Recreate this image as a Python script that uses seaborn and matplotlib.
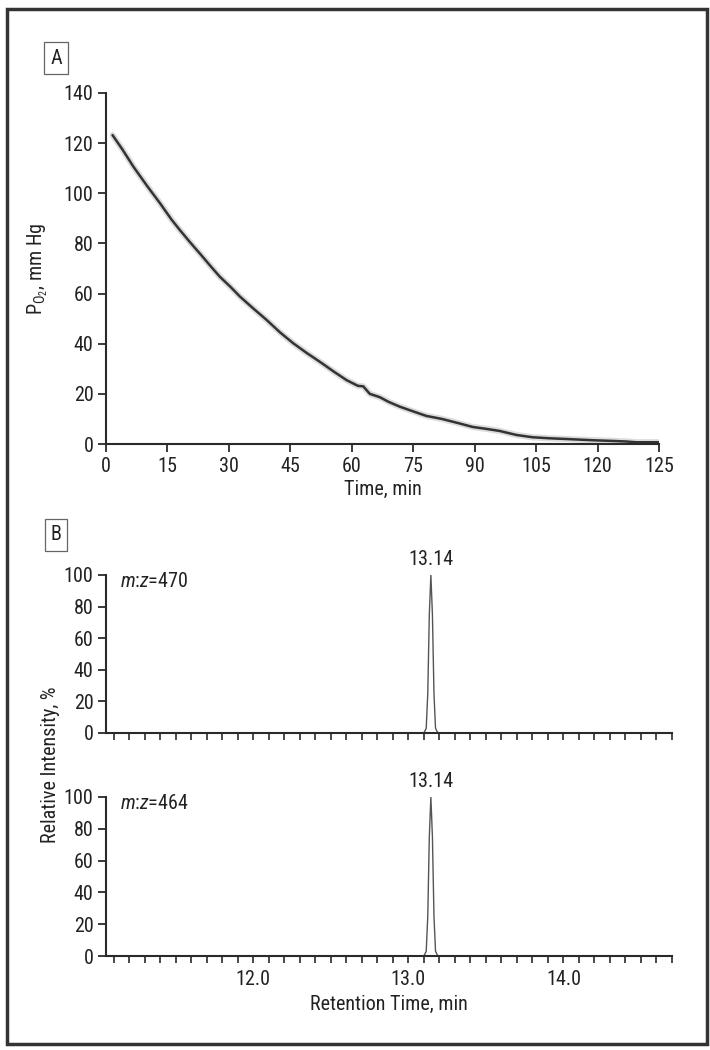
import pandas as pd
import matplotlib.pyplot as plt
import seaborn as sns
from matplotlib.patches import Rectangle

# ==========================
# DATA
# ==========================

# Panel A: oxygen tension vs time (x in axis units; last tick is labelled 125)
time_min = [1.6, 4, 6.7, 10, 13.2, 16, 18, 20.5, 22.9, 25.5, 27.8, 30.5, 32.7, 36,
            39.2, 42.5, 45.7, 49, 52.2, 55.5, 58.7, 61.5, 62.8, 64.4, 66.8, 69, 71.7,
            75, 78.2, 82, 86.3, 89.5, 93, 96.1, 100.2, 104.1, 108, 112.3, 118.8, 124,
            127, 129.4, 135]
po2_mmhg = [123.2, 117.5, 110.6, 103, 96, 89.5, 85.4, 80.5, 76, 71, 66.7, 62.5, 58.8, 54,
            49.5, 44.5, 40.2, 36.3, 32.8, 29, 25.5, 23.2, 23.0, 20.0, 18.7, 16.8, 14.9,
            13, 11.2, 10, 8.2, 6.8, 6, 5.2, 3.6, 2.7, 2.3, 2.0, 1.5, 1.2,
            1.0, 0.7, 0.7]
a_xticks = [0, 15, 30, 45, 60, 75, 90, 105, 120, 135]
a_xticklabels = ["0", "15", "30", "45", "60", "75", "90", "105", "120", "125"]
a_yticks = [0, 20, 40, 60, 80, 100, 120, 140]

# Panel B: chromatograms
rt_min = [11.05, 13.10, 13.115, 13.125, 13.135, 13.145, 13.155, 13.165, 13.175, 13.19, 14.70]
mz470_pct = [0, 0, 3, 25, 75, 100, 75, 25, 3, 0, 0]
mz464_pct = [0, 0, 3, 25, 75, 100, 75, 25, 3, 0, 0]
peak_rt = 13.145
peak_label = "13.14"
b_major = [12.0, 13.0, 14.0]
b_minor = [round(11.1 + 0.1 * i, 1) for i in range(37)]
b_yticks = [0, 20, 40, 60, 80, 100]

# ==========================
# STYLE
# ==========================

sns.set_style("ticks")
FONT = ["Roboto Condensed", "DejaVu Sans"]
plt.rcParams["font.family"] = FONT
plt.rcParams["mathtext.fontset"] = "custom"
plt.rcParams["mathtext.rm"] = "Roboto Condensed"
plt.rcParams["mathtext.it"] = "Roboto Condensed:italic"
plt.rcParams["font.size"] = 14
TXT = "#222222"
AX = "#2a2a2a"
FS = 14.5

W, H = 710, 1050
fig = plt.figure(figsize=(W / 100, H / 100), dpi=100)


def box(left, top, right, bottom):
    return [left / W, 1 - bottom / H, (right - left) / W, (bottom - top) / H]


def style_axis(ax):
    sns.despine(ax=ax)
    for s in ["left", "bottom"]:
        ax.spines[s].set_color(AX)
        ax.spines[s].set_linewidth(1.5)
    ax.tick_params(colors=AX, labelcolor=TXT, width=1.3, length=6, labelsize=FS, pad=3)


# ==========================
# PANEL A
# ==========================

ax_a = fig.add_axes(box(106, 93, 659, 444))
df_a = pd.DataFrame({"t": time_min, "po2": po2_mmhg})
sns.lineplot(data=df_a, x="t", y="po2", ax=ax_a, color="#dcdcdc", lw=4.5,
             estimator=None, sort=False)
sns.lineplot(data=df_a, x="t", y="po2", ax=ax_a, color="#333333", lw=1.8,
             estimator=None, sort=False)
ax_a.set_xlim(0, 135)
ax_a.set_ylim(0, 140)
ax_a.set_xticks(a_xticks)
ax_a.set_xticklabels(a_xticklabels)
ax_a.set_yticks(a_yticks)
style_axis(ax_a)
ax_a.set_xlabel("Time, min", color=TXT, fontsize=FS, labelpad=3)
ax_a.set_ylabel(r"P$\mathregular{_{O_2}}$, mm Hg", color=TXT, fontsize=FS, labelpad=10)

# ==========================
# PANEL B
# ==========================

ax_b1 = fig.add_axes(box(106, 575, 672, 733))
ax_b2 = fig.add_axes(box(106, 797, 672, 956))

for ax, vals, mz in [(ax_b1, mz470_pct, "470"), (ax_b2, mz464_pct, "464")]:
    df_b = pd.DataFrame({"rt": rt_min, "pct": vals})
    sns.lineplot(data=df_b, x="rt", y="pct", ax=ax, color="#555555", lw=1.0,
                 estimator=None, sort=False)
    ax.set_xlim(11.05, 14.70)
    ax.set_ylim(0, 100)
    ax.set_yticks(b_yticks)
    ax.set_xticks(b_minor)
    style_axis(ax)
    ax.tick_params(axis="x", length=5, width=1.2)
    ax.set_xlabel("")
    ax.set_ylabel("")
    ax.text(11.14, 96, r"$\mathit{m}$:$\mathit{z}$=" + mz, ha="left", va="center",
            fontsize=FS, color=TXT)
    ax.text(peak_rt, 104, peak_label, ha="center", va="bottom", fontsize=FS,
            color=TXT, clip_on=False)

ax_b1.set_xticklabels([])
ax_b2.set_xticklabels([f"{v:.1f}" if v in b_major else "" for v in b_minor])
ax_b2.tick_params(axis="x", pad=5)
ax_b2.set_xlabel("Retention Time, min", color=TXT, fontsize=FS, labelpad=4)
fig.text(51 / W, 1 - 765 / H, "Relative Intensity, %", rotation=90, ha="center",
         va="center", fontsize=FS, color=TXT)

# ==========================
# PANEL LABELS AND FRAME
# ==========================

for lbl, cy in [("A", 58), ("B", 535)]:
    fig.text(56 / W, 1 - cy / H, lbl, ha="center", va="center", fontsize=FS,
             color=TXT, bbox=dict(boxstyle="square,pad=0.3", fc="white",
                                  ec="#666666", lw=0.9))

fig.add_artist(Rectangle((7 / W, 1 - 1044 / H), 700 / W, 1035 / H,
                         transform=fig.transFigure, fill=False, lw=2.5,
                         ec="#333333"))

plt.savefig("out.png", dpi=100)
plt.close()
